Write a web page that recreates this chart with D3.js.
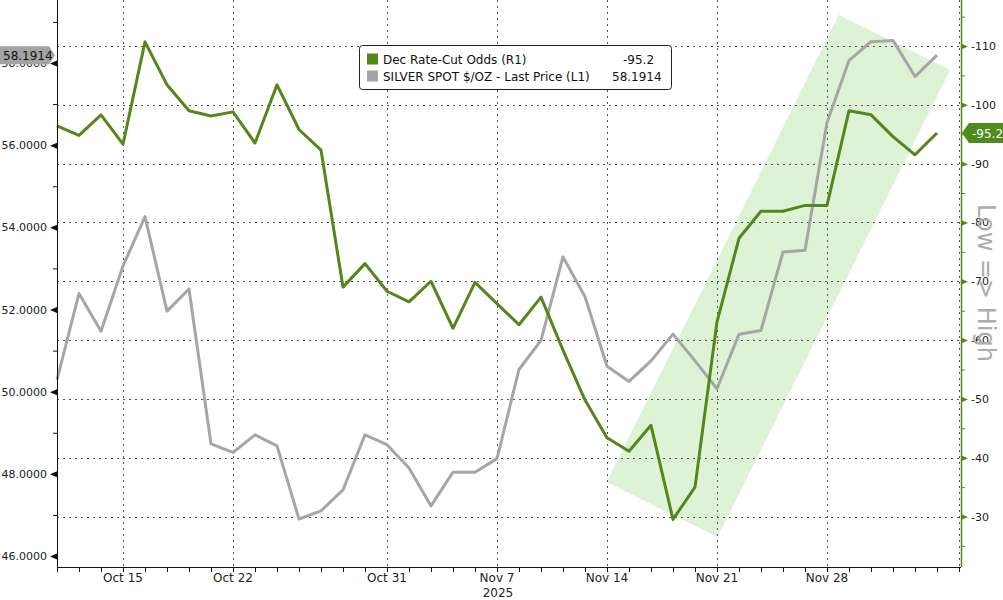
<!DOCTYPE html>
<html><head><meta charset="utf-8">
<script src="https://cdn.jsdelivr.net/npm/d3@7"></script>
<style>
html,body{margin:0;padding:0;background:#fff;}
svg{display:block;font-family:"DejaVu Sans",sans-serif;}
</style></head>
<body>
<svg id="c" width="1003" height="600"></svg>
<script>
const dates = ["2025-10-10","2025-10-13","2025-10-14","2025-10-15","2025-10-16","2025-10-17",
"2025-10-20","2025-10-21","2025-10-22","2025-10-23","2025-10-24",
"2025-10-27","2025-10-28","2025-10-29","2025-10-30","2025-10-31",
"2025-11-03","2025-11-04","2025-11-05","2025-11-06","2025-11-07",
"2025-11-10","2025-11-11","2025-11-12","2025-11-13","2025-11-14",
"2025-11-17","2025-11-18","2025-11-19","2025-11-20","2025-11-21",
"2025-11-24","2025-11-25","2025-11-26","2025-11-27","2025-11-28",
"2025-12-01","2025-12-02","2025-12-03","2025-12-04","2025-12-05"];
const rateCutOdds = [-96.4,-94.8,-98.3,-93.3,-110.7,-103.4,-99.0,-98.1,-98.8,-93.5,-103.4,
-95.8,-92.3,-69.0,-73.0,-68.3,-66.5,-70.0,-62.0,-69.8,-66.2,
-62.6,-67.3,-58.3,-49.8,-43.4,-41.1,-45.5,-29.5,-35.0,-63.1,
-77.3,-81.9,-81.9,-82.9,-82.9,-99.0,-98.3,-94.6,-91.5,-95.2];
const silver = [50.29,52.39,51.47,53.06,54.26,51.96,52.50,48.73,48.52,48.95,48.68,
46.90,47.10,47.61,48.95,48.71,48.14,47.22,48.04,48.04,48.37,
50.54,51.25,53.28,52.31,50.62,50.25,50.75,51.40,50.75,50.07,
51.40,51.49,53.40,53.44,56.55,58.06,58.52,58.55,57.67,58.19];
const xTickDates = ["2025-10-15","2025-10-22","2025-10-31","2025-11-07","2025-11-14","2025-11-21","2025-11-28"];
const xTickLabels = ["Oct 15","Oct 22","Oct 31","Nov 7","Nov 14","Nov 21","Nov 28"];
const leftTicks = [46,48,50,52,54,56,58];
const leftMinor = [47,49,51,53,55,57,59];
const rightTicks = [-110,-100,-90,-80,-70,-60,-50,-40,-30];
const rightMinor = [-115,-105,-95,-85,-75,-65,-55,-45,-35,-25];
// trend channel corners in (trading-day index, rate-cut odds) space
const channel = [{i:24.99,v:-35.85},{i:35.54,v:-115.3},{i:40.6,v:-105.9},{i:30.02,v:-26.5}];
const legendItems = [
  {name:"Dec Rate-Cut Odds (R1)", value:"-95.2", color:"#55861b"},
  {name:"SILVER SPOT $/OZ - Last Price (L1)", value:"58.1914", color:"#a6a6a6"}];
const lastRate = rateCutOdds[rateCutOdds.length-1];
const lastSilverLabel = "58.1914";
const lastSilver = silver[silver.length-1];

const GREEN = "#55861b", GRAY = "#a6a6a6";
const svg = d3.select("#c");
const L = 57, R = 961, T = 0, B = 567;
const x = d3.scaleLinear().domain([0, 41]).range([L, 959]);
const yR = d3.scaleLinear().domain([-110, -30]).range([46, 516.5]);
const yL = d3.scaleLinear().domain([46, 58]).range([556, 63]);
const idx = d => dates.indexOf(d);

// channel
svg.append("path")
  .attr("d", d3.line().x(d => x(d.i)).y(d => yR(d.v))(channel) + "Z")
  .attr("fill", "#def3d6");

// gridlines
const grid = svg.append("g").attr("stroke", "#555").attr("stroke-width", 1).attr("stroke-dasharray", "2,4");
grid.selectAll("line.h").data(rightTicks).join("line")
  .attr("x1", L).attr("x2", 959).attr("y1", d => Math.round(yR(d)) + 0.5).attr("y2", d => Math.round(yR(d)) + 0.5);
grid.selectAll("line.v").data(xTickDates.map(idx).concat([41])).join("line")
  .attr("y1", T).attr("y2", B).attr("x1", d => Math.round(x(d)) + 0.5).attr("x2", d => Math.round(x(d)) + 0.5);

// lines
svg.append("path").datum(silver)
  .attr("d", d3.line().x((d, i) => x(i)).y(d => yL(d)))
  .attr("fill", "none").attr("stroke", GRAY).attr("stroke-width", 3).attr("stroke-linejoin", "round");
svg.append("path").datum(rateCutOdds)
  .attr("d", d3.line().x((d, i) => x(i)).y(d => yR(d)))
  .attr("fill", "none").attr("stroke", GREEN).attr("stroke-width", 3).attr("stroke-linejoin", "round");

// bottom axis
const xAxis = d3.axisBottom(x).tickValues(d3.range(0, 42)).tickSize(5).tickFormat("");
const gx = svg.append("g").attr("transform", `translate(0,${B})`).call(xAxis);
gx.select(".domain").attr("d", `M${L},0.5H${R}`).attr("stroke", "#111");
gx.selectAll(".tick line").attr("stroke", "#111");
svg.append("g").selectAll("text").data(xTickDates).join("text")
  .attr("x", d => x(idx(d))).attr("y", 582).attr("text-anchor", "middle")
  .attr("font-size", 12).attr("fill", "#222")
  .text((d, i) => xTickLabels[i]);
svg.append("text").attr("x", x(idx("2025-11-07")) + 1).attr("y", 597).attr("text-anchor", "middle")
  .attr("font-size", 12).attr("fill", "#222").text("2025");

// left axis
const gl = svg.append("g").attr("transform", `translate(${L},0)`)
  .call(d3.axisLeft(yL).tickValues(leftTicks).tickSize(0).tickPadding(10).tickFormat(d3.format(".4f")));
gl.select(".domain").attr("d", `M0.5,${T}V${B}`).attr("stroke", "#111");
gl.selectAll(".tick text").attr("font-size", 11).attr("fill", "#222").attr("font-family", "DejaVu Sans");
gl.selectAll(".tick").append("path").attr("d", "M0,-3L-7,0L0,3Z").attr("fill", "#111");
svg.append("g").attr("transform", `translate(${L},0)`)
  .call(d3.axisLeft(yL).tickValues(leftMinor.filter(v => yL(v) > 2)).tickSize(4).tickFormat(""))
  .call(g => g.select(".domain").remove())
  .selectAll(".tick line").attr("stroke", "#111");

// right axis
const gr = svg.append("g").attr("transform", `translate(${R},0)`)
  .call(d3.axisRight(yR).tickValues(rightTicks).tickSize(0).tickPadding(10).tickFormat(d => String(d)));
gr.select(".domain").attr("d", `M0.5,${T}V${B}`).attr("stroke", GREEN).attr("stroke-width", 1.5);
gr.selectAll(".tick text").attr("font-size", 11).attr("fill", "#222").attr("font-family", "DejaVu Sans");
gr.selectAll(".tick").append("path").attr("d", "M0,-3L7,0L0,3Z").attr("fill", GREEN);
svg.append("g").attr("transform", `translate(${R},0)`)
  .call(d3.axisRight(yR).tickValues(rightMinor.filter(v => yR(v) > 2 && yR(v) < B)).tickSize(4).tickFormat(""))
  .call(g => g.select(".domain").remove())
  .selectAll(".tick line").attr("stroke", GREEN);

// rotated axis title
svg.append("text").attr("transform", `translate(978,283) rotate(90)`)
  .attr("text-anchor", "middle").attr("font-size", 24).attr("fill", "#adadad").text("Low => High");

// legend
const lg = svg.append("g");
lg.append("rect").attr("x", 359.5).attr("y", 45.5).attr("width", 312).attr("height", 44).attr("rx", 3)
  .attr("fill", "#fff").attr("stroke", "#222").attr("stroke-width", 1);
legendItems.forEach((it, i) => {
  const cy = 59 + i * 17;
  lg.append("rect").attr("x", 367).attr("y", cy - 5.5).attr("width", 11).attr("height", 11).attr("fill", it.color);
  lg.append("text").attr("x", 383).attr("y", cy + 4.5).attr("font-size", 12).attr("fill", "#111").text(it.name);
  lg.append("text").attr("x", i === 0 ? 623 : 612).attr("y", cy + 4.5).attr("font-size", 12).attr("fill", "#111").text(it.value);
});

// left price tag
const ly = yL(lastSilver);
svg.append("path").attr("d", `M0,${ly - 9}H49L55,${ly}L49,${ly + 9}H0Z`).attr("fill", "#a3a3a3");
svg.append("text").attr("x", 3).attr("y", ly + 4.5).attr("font-size", 12).attr("fill", "#111").text(lastSilverLabel);
// right price tag
const ry = yR(lastRate);
svg.append("path").attr("d", `M962,${ry}L969,${ry - 10}H1003V${ry + 10}H969Z`).attr("fill", "#4f8a1c");
svg.append("text").attr("x", 972).attr("y", ry + 4.5).attr("font-size", 12).attr("fill", "#fff").text(String(lastRate));
</script>
</body></html>
